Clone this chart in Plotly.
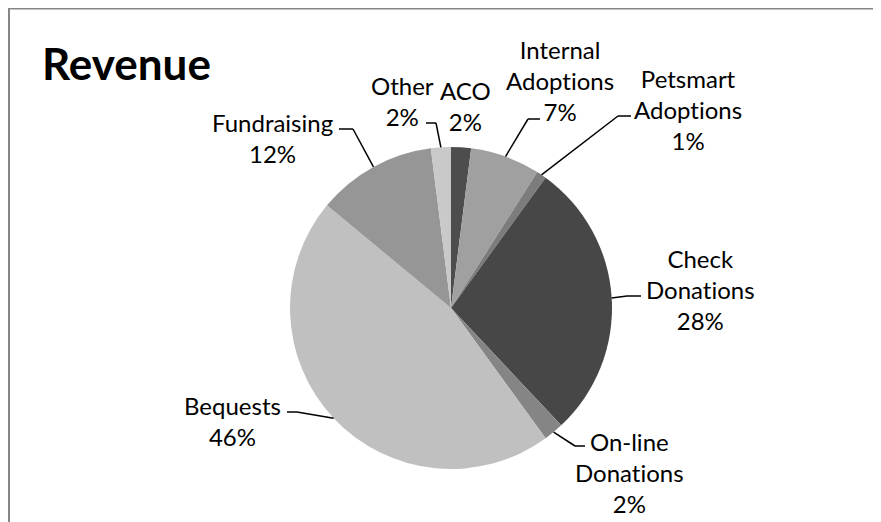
import math
import plotly.graph_objects as go

# ---- data ----
categories = ["ACO", "Internal Adoptions", "Petsmart Adoptions", "Check Donations",
              "On-line Donations", "Bequests", "Fundraising", "Other"]
label_text = ["ACO", "Internal<br>Adoptions", "Petsmart<br>Adoptions", "Check<br>Donations",
              "On-line<br>Donations", "Bequests", "Fundraising", "Other"]
values = [2, 7, 1, 28, 2, 46, 12, 2]
colors = ["#4d4d4d", "#a0a0a0", "#7c7c7c", "#474747",
          "#858585", "#c0c0c0", "#969696", "#c9c9c9"]

# ---- layout (pixels within the figure; page adds an 8px body margin) ----
W, H = 881, 522
OFF = 8
CX, CY, R = 451 - OFF, 308 - OFF, 161
FONT = "Lato"

# label block centres and leader elbows/ends, in page pixels (layout, not data)
label_pos = [(465, 106), (560, 80), (688, 110), (700, 289), (629, 472), (232, 421), (272, 138), (402, 101)]
leader_pts = [None,
              [(528, 119), (540, 119)],
              [(618, 116), (631, 116)],
              [(627, 296), (641, 296)],
              [(575, 446), (585, 446)],
              [(297, 412), (287, 412)],
              [(353, 129), (339, 129)],
              [(436, 123), (426, 123)]]

def px(x):
    return x / W

def py(y):
    return 1 - y / H

def no_lig(s):
    # keep "t" and "i" as separate glyphs (avoid the font's ti ligature)
    return s.replace("ti", "t\u200ci")

fig = go.Figure(go.Pie(
    labels=categories,
    values=values,
    sort=False,
    direction="clockwise",
    rotation=0,
    marker=dict(colors=colors, line=dict(width=0)),
    textinfo="none",
    hoverinfo="label+percent",
    domain=dict(x=[px(CX - R), px(CX + R)], y=[py(CY + R), py(CY - R)]),
    showlegend=False,
))

total = sum(values)
shapes = []
annotations = []
cum = 0
for i, v in enumerate(values):
    mid = (cum + v / 2) / total * 2 * math.pi
    cum += v
    ex = CX + R * math.sin(mid)
    ey = CY - R * math.cos(mid)
    pct = round(v / total * 100)
    lx, ly = label_pos[i]
    annotations.append(dict(
        x=px(lx - OFF), y=py(ly - OFF), xref="paper", yref="paper",
        text=f"{no_lig(label_text[i])}<br>{pct}%", showarrow=False,
        xanchor="center", yanchor="middle", align="center",
        font=dict(family=FONT, size=24, color="#000000"),
    ))
    if leader_pts[i]:
        pts = [(ex, ey)] + [(a - OFF, b - OFF) for a, b in leader_pts[i]]
        for (x0, y0), (x1, y1) in zip(pts[:-1], pts[1:]):
            shapes.append(dict(type="line", xref="paper", yref="paper",
                               x0=px(x0), y0=py(y0), x1=px(x1), y1=py(y1),
                               line=dict(color="#000000", width=1.5)))

# chart frame (top and left edges visible)
shapes.append(dict(type="line", xref="paper", yref="paper", x0=px(0), y0=py(0.75), x1=px(W), y1=py(0.75),
                   line=dict(color="#868686", width=1.5)))
shapes.append(dict(type="line", xref="paper", yref="paper", x0=px(1), y0=py(0), x1=px(1), y1=py(H),
                   line=dict(color="#868686", width=2)))

annotations.append(dict(
    x=px(40 - OFF), y=py(63 - OFF), xref="paper", yref="paper", text="<b>Revenue</b>",
    showarrow=False, xanchor="left", yanchor="middle",
    font=dict(family=FONT, size=44, color="#000000"),
))

fig.update_layout(
    width=W, height=H,
    margin=dict(l=0, r=0, t=0, b=0),
    paper_bgcolor="#ffffff", plot_bgcolor="#ffffff",
    shapes=shapes, annotations=annotations,
)

fig.write_html("out.html")
